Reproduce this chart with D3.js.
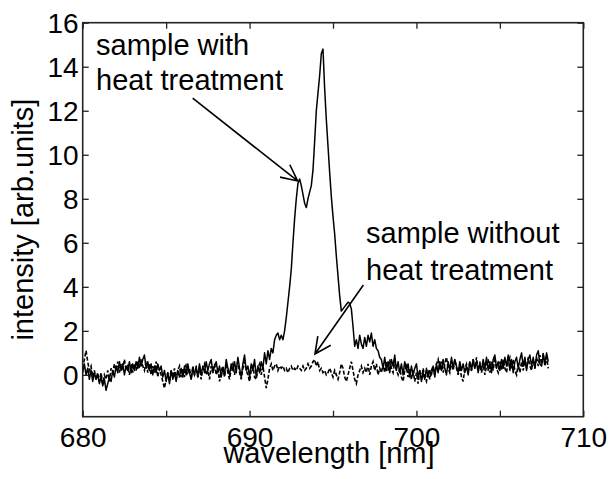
<!DOCTYPE html>
<html>
<head>
<meta charset="utf-8">
<script src="https://cdn.jsdelivr.net/npm/d3@7"></script>
<style>
  html, body { margin: 0; padding: 0; background: #fff; }
  svg text { font-family: "Liberation Sans", Arial, sans-serif; fill: #000; }
</style>
</head>
<body>
<div id="chart"></div>
<script>
// ---- data ----
const xStart = 680.0;
const xStep = 0.1;
// intensity of sample with heat treatment, every 0.1 nm from 680.0
const withHeat = [
  0.1, 0.5, 0.0, 0.3, -0.2, 0.2, -0.3, 0.1, -0.2, 0.0,
  -0.4, -0.1, -0.5, -0.2, -0.7, -0.4, -0.1, -0.3, 0.2, -0.1,
  0.4, 0.1, 0.6, 0.2, 0.5, 0.0, 0.4, 0.2, 0.6, 0.1,
  0.5, 0.2, 0.6, 0.3, 0.8, 0.4, 0.7, 0.9, 0.3, 0.6,
  0.2, 0.5, 0.0, 0.4, 0.1, 0.5, 0.2, 0.4, -0.1, 0.2,
  -0.3, 0.1, -0.4, 0.2, -0.2, 0.1, -0.3, 0.2, -0.1, 0.3,
  -0.1, 0.4, 0.0, 0.5, 0.1, -0.2, 0.3, 0.0, 0.4, -0.1,
  0.5, 0.0, 0.4, 0.1, 0.6, 0.2, 0.5, 0.7, 0.1, 0.4,
  0.6, 0.1, 0.4, -0.1, 0.3, 0.0, 0.7, 0.3, 0.0, 0.5,
  0.2, 0.6, 0.1, 0.8, 0.3, -0.1, 0.5, 0.9, 0.2, 0.4,
  -0.1, 0.5, 0.2, 0.7, -0.1, 0.4, 0.1, 0.6, 0.3, 1.0,
  0.5, 1.1, 0.7, 1.2, 1.0, 1.6, 1.8, 1.9, 1.6, 1.8,
  1.6, 2.0, 2.6, 3.3, 4.0, 4.8, 6.0, 7.1, 8.0, 8.7,
  8.9, 8.6, 8.2, 7.8, 7.6, 8.0, 8.3, 8.6, 9.3, 10.6,
  12.0, 12.8, 13.6, 14.6, 14.8, 13.0, 11.6, 10.4, 9.2, 8.1,
  7.2, 6.4, 5.4, 4.5, 3.6, 2.9, 3.0, 3.1, 3.2, 3.3,
  3.25, 3.0, 2.2, 1.3, 1.6, 1.2, 1.8, 1.4, 1.2, 1.7,
  1.3, 1.8, 1.5, 1.9, 1.3, 1.6, 1.2, 1.1, 0.8, 0.7,
  0.3, 0.8, 0.2, 0.6, 0.1, 0.7, 0.4, 0.9, 0.2, 0.6,
  0.1, 0.5, 0.0, 0.6, 0.2, 0.5, -0.1, 0.4, 0.0, 0.3,
  0.5, -0.1, 0.2, -0.3, 0.1, -0.2, 0.3, -0.1, 0.2, 0.0,
  0.4, -0.1, 0.5, 0.1, 0.6, 0.2, 0.7, 0.3, 0.0, 0.6,
  0.2, 0.8, 0.3, 0.7, 0.4, 0.1, 0.6, 0.2, 0.5, 0.1,
  0.4, 0.0, 0.6, 0.2, 0.7, 0.3, 0.6, 0.1, 0.5, 0.2,
  0.7, 0.3, 0.8, 0.2, 0.6, 0.1, 0.7, 0.9, 0.3, 0.6,
  0.2, 0.7, 0.3, 0.8, 0.4, 0.9, 0.2, 0.7, 0.1, 0.6,
  0.8, 0.3, 0.7, 1.0, 0.4, 0.8, 0.2, 0.7, 0.9, 0.4,
  0.8, 0.3, 0.9, 1.1, 0.5, 0.4, 0.9, 0.5, 1.0, 0.6
];
// intensity of sample without heat treatment, every 0.1 nm from 680.0
const withoutHeat = [
  0.3, 0.7, 1.1, 0.6, 0.2, 0.4, -0.1, 0.2, -0.2, 0.1,
  -0.3, 0.1, -0.4, 0.0, -0.2, 0.2, -0.3, 0.3, 0.1, 0.5,
  0.2, 0.6, 0.1, 0.5, 0.3, 0.7, 0.2, 0.4, 0.0, 0.5,
  0.1, 0.5, 0.2, 0.6, 0.3, 0.7, 0.4, 0.2, 0.6, 0.1,
  0.5, 0.0, 0.4, 0.1, 0.6, -0.1, 0.3, 0.0, -0.3, -0.6,
  -0.2, 0.1, -0.3, 0.2, -0.1, 0.3, -0.2, 0.2, 0.4, -0.1,
  0.3, -0.1, 0.5, 0.1, 0.3, -0.2, 0.4, 0.0, 0.2, -0.1,
  0.4, -0.2, 0.3, 0.5, 0.0, 0.2, -0.2, 0.4, 0.1, 0.5,
  0.0, 0.3, -0.3, 0.2, 0.4, -0.1, 0.5, 0.1, -0.2, 0.3,
  0.5, 0.0, 0.4, 0.6, 0.1, -0.2, 0.3, 0.6, 0.2, 0.0,
  -0.3, 0.2, 0.4, -0.1, -0.2, 0.3, 0.5, 0.0, 0.4, -0.1,
  -0.6, -0.2, 0.3, 0.5, 0.2, 0.4, 0.5, 0.2, 0.4, 0.3,
  0.4, 0.2, 0.3, 0.1, 0.3, 0.4, 0.2, 0.3, 0.2, 0.4,
  0.3, 0.2, 0.4, 0.2, 0.3, 0.5, 0.3, 0.4, 0.6, 0.7,
  0.4, 0.6, 0.2, 0.3, 0.1, 0.2, 0.0, 0.1, 0.3, 0.1,
  -0.1, 0.2, 0.0, -0.2, 0.1, 0.5, 0.3, -0.1, -0.3, 0.0,
  0.3, 0.6, 0.2, -0.2, -0.4, 0.0, 0.2, 0.4, 0.1, 0.3,
  0.1, 0.5, 0.0, 0.4, 0.6, 0.2, 0.5, 0.0, 0.3, 0.1,
  0.5, 0.1, 0.6, 0.2, 0.7, 0.3, 0.1, 0.6, 0.2, 0.0,
  0.3, -0.1, -0.3, 0.2, 0.4, -0.1, 0.3, -0.2, 0.2, -0.3,
  0.1, -0.4, 0.2, -0.2, 0.3, -0.1, -0.3, 0.2, -0.2, 0.2,
  0.4, 0.0, 0.5, 0.7, 0.2, 0.6, 0.1, 0.5, 0.8, 0.3,
  0.1, 0.6, 0.2, 0.7, 0.3, 0.0, 0.4, -0.1, -0.3, 0.3,
  0.5, 0.1, 0.6, 0.2, 0.7, 0.3, 0.8, 0.2, 0.6, 0.1,
  0.5, 0.0, 0.4, 0.7, 0.1, 0.6, 0.2, 0.8, 0.3, 0.1,
  0.6, 0.2, 0.7, 0.3, 0.1, 0.6, 0.8, 0.3, 0.7, 0.2,
  0.0, 0.5, 0.1, 0.6, 0.2, 0.7, 0.3, 0.8, 0.4, 0.2,
  0.7, 0.3, 0.8, 0.4, 0.9, 0.5, 1.0, 0.4, 0.8, 0.3
];
const xTicks = [680, 685, 690, 695, 700, 705, 710];
const xTickLabels = ["680", "", "690", "", "700", "", "710"];
const yTicks = [0, 2, 4, 6, 8, 10, 12, 14, 16];
const yTickLabels = ["0", "2", "4", "6", "8", "10", "12", "14", "16"];
const xLabel = "wavelength [nm]";
const yLabel = "intensity [arb.units]";
const annoWith = ["sample with", "heat treatment"];
const annoWithout = ["sample without", "heat treatment"];

// ---- layout ----
const W = 614, H = 479;
const L = 82.7, R = 583.3, T = 22.7, B = 416.7;
const FS = 28;

const x = d3.scaleLinear().domain([680, 710]).range([L, R]);
const y = d3.scaleLinear().domain([-1.9, 16]).range([B, T]);

const svg = d3.select("#chart").append("svg")
  .attr("width", W).attr("height", H);

const toPts = arr => arr.map((v, i) => [xStart + i * xStep, v]);
const line = d3.line().x(d => x(d[0])).y(d => y(d[1]));

// data lines
svg.append("path").datum(toPts(withoutHeat))
  .attr("d", line).attr("fill", "none").attr("stroke", "#000")
  .attr("stroke-width", 1.6).attr("stroke-dasharray", "4,2");
svg.append("path").datum(toPts(withHeat))
  .attr("d", line).attr("fill", "none").attr("stroke", "#000")
  .attr("stroke-width", 1.5).attr("stroke-linejoin", "round");

// axes (ticks inward on all sides)
const tl = 6;
const fmtX = (d) => xTickLabels[xTicks.indexOf(d)];
const fmtY = (d) => yTickLabels[yTicks.indexOf(d)];

const gB = svg.append("g").attr("transform", `translate(0,${B})`)
  .call(d3.axisBottom(x).tickValues(xTicks).tickFormat(fmtX).tickSizeInner(-tl).tickSizeOuter(0).tickPadding(10));
const gT = svg.append("g").attr("transform", `translate(0,${T})`)
  .call(d3.axisTop(x).tickValues(xTicks).tickFormat("").tickSizeInner(-tl).tickSizeOuter(0));
const gL = svg.append("g").attr("transform", `translate(${L},0)`)
  .call(d3.axisLeft(y).tickValues(yTicks).tickFormat(fmtY).tickSizeInner(-tl).tickSizeOuter(0).tickPadding(4));
const gR = svg.append("g").attr("transform", `translate(${R},0)`)
  .call(d3.axisRight(y).tickValues(yTicks).tickFormat("").tickSizeInner(-tl).tickSizeOuter(0));

[gB, gT, gL, gR].forEach(g => {
  g.select(".domain").remove();
  g.selectAll(".tick line").attr("stroke", "#222").attr("stroke-width", 1.3);
  g.selectAll("text").attr("font-size", FS).attr("font-family", "Liberation Sans, Arial, sans-serif").attr("fill", "#000");
});
gB.selectAll(".tick text").attr("dy", "0.71em");
gL.selectAll(".tick text").attr("dy", "0.35em");

// frame
svg.append("rect").attr("x", L).attr("y", T).attr("width", R - L).attr("height", B - T)
  .attr("fill", "none").attr("stroke", "#222").attr("stroke-width", 1.6);

// axis labels
svg.append("text").attr("x", (L + R) / 2 - 4).attr("y", 463)
  .attr("text-anchor", "middle").attr("font-size", FS + 1).text(xLabel);
svg.append("text")
  .attr("transform", `translate(33,${(T + B) / 2}) rotate(-90)`)
  .attr("text-anchor", "middle").attr("font-size", FS + 1).text(yLabel);

// annotations
function annoText(lines, x0, y0, y1) {
  const t = svg.append("text").attr("font-size", FS + 1);
  t.append("tspan").attr("x", x(x0)).attr("y", y(y0)).text(lines[0]);
  t.append("tspan").attr("x", x(x0)).attr("y", y(y1)).text(lines[1]);
}
annoText(annoWith, 680.8, 14.53, 12.94);
annoText(annoWithout, 696.98, 5.98, 4.33);

function arrow(x0, y0, x1, y1) {
  const sx = x(x0), sy = y(y0), ex = x(x1), ey = y(y1);
  const ang = Math.atan2(sy - ey, sx - ex);
  const hl = 18, ha = 26 * Math.PI / 180;
  const p = d3.path();
  p.moveTo(sx, sy); p.lineTo(ex, ey);
  p.moveTo(ex + hl * Math.cos(ang + ha), ey + hl * Math.sin(ang + ha));
  p.lineTo(ex, ey);
  p.lineTo(ex + hl * Math.cos(ang - ha), ey + hl * Math.sin(ang - ha));
  svg.append("path").attr("d", p.toString()).attr("fill", "none")
    .attr("stroke", "#000").attr("stroke-width", 1.6);
}
arrow(686.59, 12.57, 692.88, 8.81);
arrow(696.82, 4.08, 693.92, 0.95);
</script>
</body>
</html>
